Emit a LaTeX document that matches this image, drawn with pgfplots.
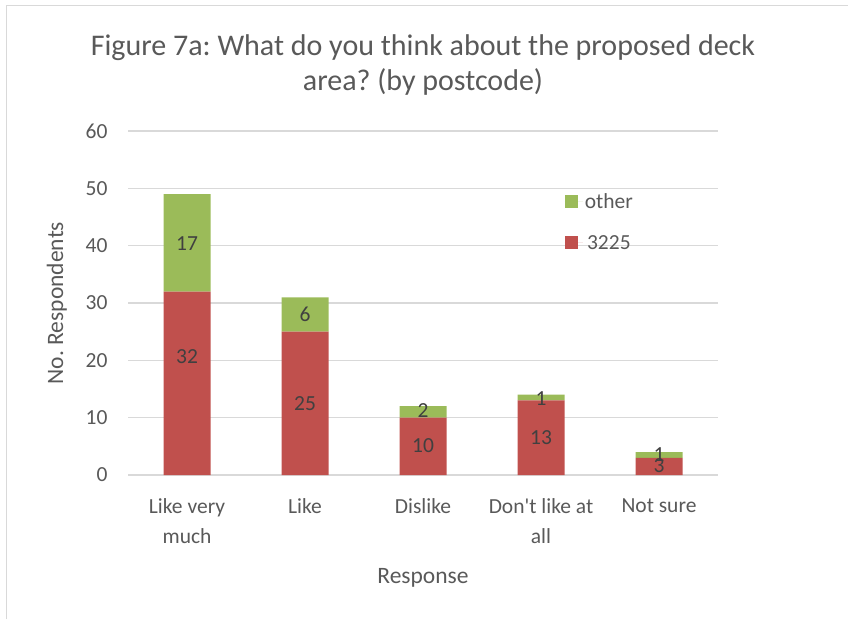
\documentclass[border=0pt]{standalone}
\usepackage{pgfplots}
\pgfplotsset{compat=1.18}
\usepackage{fontspec}
\setmainfont{Carlito}[Ligatures=TeXOff]
\definecolor{cred}{HTML}{C0504D}
\definecolor{cgreen}{HTML}{9BBB59}
\definecolor{ctext}{HTML}{595959}
\definecolor{cgrid}{HTML}{D9D9D9}
\definecolor{clab}{HTML}{404040}
\frenchspacing
\begin{document}
\begin{tikzpicture}[x=1pt,y=1pt]
\path[use as bounding box] (0,0) rectangle (848,619);
\draw[cgrid,line width=1pt] (6,0) -- (6,613) -- (848,613);
\pgfplotsset{
  base/.style={
    at={(128pt,144pt)}, anchor=south west,
    scale only axis, width=590pt, height=344pt,
    xmin=-0.5, xmax=4.5, ymin=0, ymax=60,
  }
}
\begin{axis}[base,
  ybar stacked, bar width=47pt,
  axis x line*=bottom, axis y line*=left,
  x axis line style={cgrid,line width=1.3pt},
  y axis line style={draw=none},
  ymajorgrids, grid style={cgrid,line width=1.3pt},
  ytick={0,10,...,60}, xtick={0,1,2,3,4},
  xticklabels={{Like very\\much},{Like},{Dislike},{Don't like at\\all},{Not sure}},
  major tick length=0pt,
  xticklabel style={align=center,font=\fontsize{21.5}{30}\selectfont,text=ctext,yshift=-20pt},
  yticklabel style={font=\fontsize{21.5}{26}\selectfont,text=ctext,xshift=-17pt},
  /pgf/number format/assume math mode=true,
  xlabel={Response}, ylabel={No. Respondents},
  xlabel style={font=\fontsize{23.5}{28}\selectfont,text=ctext,yshift=-18pt},
  ylabel style={font=\fontsize{23.5}{28}\selectfont,text=ctext,yshift=12pt},
  title={Figure 7a: What do you think about the proposed deck\\area? (by postcode)},
  title style={font=\fontsize{30}{35}\selectfont,text=ctext,align=center,yshift=26pt},
  legend style={at={(rel axis cs:0.735,0.83)},anchor=north west,draw=none,fill=none,
    font=\fontsize{21.5}{26}\selectfont,text=ctext,row sep=21pt},
  reverse legend,
  legend image code/.code={\fill[#1] (0pt,-6pt) rectangle (13pt,7pt); \path (0pt,0pt) -- (18pt,0pt);},
]
\addplot[fill=cred,draw=none] coordinates {(0,32) (1,25) (2,10) (3,13) (4,3)};
\addlegendentry{3225}
\addplot[fill=cgreen,draw=none] coordinates {(0,17) (1,6) (2,2) (3,1) (4,1)};
\addlegendentry{other}
\end{axis}
\begin{axis}[base, axis lines=none,
  nodes near coords, point meta=explicit symbolic,
  nodes near coords align=center,
  every node near coord/.append style={font=\fontsize{21.5}{26}\selectfont,text=clab,anchor=center},
]
\addplot[only marks, mark=none] coordinates {
 (0,20.6) [32] (1,12.4) [25] (2,5.1) [10] (3,6.5) [13] (4,1.6) [3]
 (0,40.3) [17] (1,28.1) [6] (2,11.2) [2] (3,13.4) [1] (4,3.5) [1]
};
\end{axis}
\end{tikzpicture}
\end{document}
